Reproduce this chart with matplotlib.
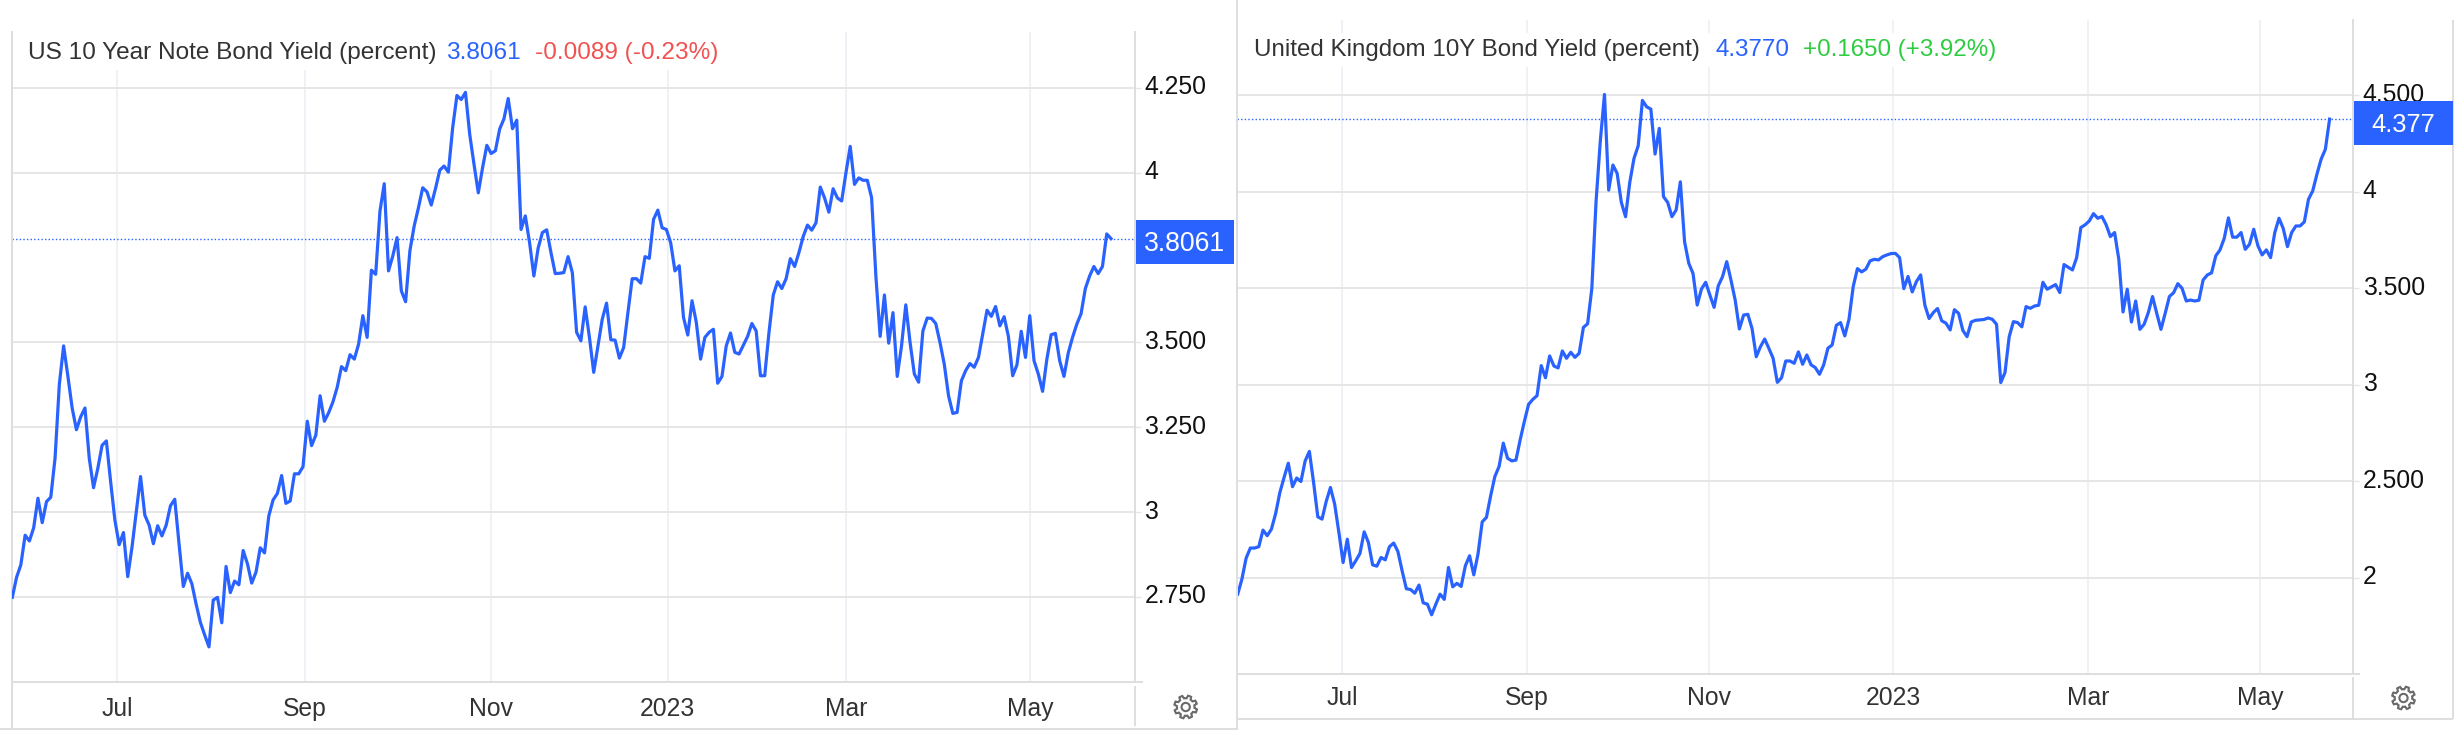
"""US and UK 10 year bond yields, side by side, in the Trading Economics look."""
import numpy as np
import matplotlib
matplotlib.use("Agg")
import matplotlib.pyplot as plt
from matplotlib.patches import Rectangle, Polygon, Circle
from matplotlib.transforms import ScaledTranslation

plt.rcParams["font.family"] = ["Liberation Sans", "DejaVu Sans"]

W, H = 2464, 730
BLUE = "#2962ff"
GRID_H = "#e6e6e6"
GRID_V = "#eef1f5"
BORDER = "#dedede"
TEXT = "#333333"

# daily closes
us_yield = [
    2.749, 2.808, 2.845, 2.932, 2.915, 2.954, 3.041, 2.969, 3.031, 3.044, 3.159, 3.376, 3.490, 3.401, 3.307,
    3.243, 3.281, 3.307, 3.159, 3.072, 3.129, 3.197, 3.210, 3.090, 2.976, 2.904, 2.940, 2.810, 2.897, 3.001,
    3.105, 2.991, 2.962, 2.907, 2.960, 2.930, 2.962, 3.019, 3.038, 2.907, 2.781, 2.820, 2.789, 2.729, 2.675,
    2.638, 2.603, 2.741, 2.749, 2.674, 2.840, 2.763, 2.797, 2.786, 2.887, 2.848, 2.791, 2.823, 2.895, 2.880,
    2.989, 3.036, 3.055, 3.108, 3.026, 3.033, 3.113, 3.113, 3.134, 3.268, 3.196, 3.227, 3.343, 3.268, 3.293,
    3.325, 3.368, 3.429, 3.417, 3.464, 3.451, 3.495, 3.579, 3.515, 3.713, 3.701, 3.887, 3.968, 3.711, 3.755,
    3.809, 3.652, 3.620, 3.770, 3.843, 3.897, 3.956, 3.944, 3.905, 3.954, 4.008, 4.020, 4.002, 4.132, 4.228,
    4.216, 4.237, 4.113, 4.025, 3.941, 4.015, 4.081, 4.057, 4.065, 4.129, 4.159, 4.219, 4.130, 4.155, 3.833,
    3.873, 3.794, 3.696, 3.778, 3.824, 3.832, 3.765, 3.703, 3.704, 3.706, 3.753, 3.706, 3.530, 3.505, 3.605,
    3.515, 3.412, 3.490, 3.569, 3.616, 3.508, 3.507, 3.454, 3.485, 3.588, 3.688, 3.688, 3.675, 3.753, 3.748,
    3.863, 3.890, 3.838, 3.833, 3.794, 3.711, 3.726, 3.574, 3.522, 3.623, 3.559, 3.451, 3.515, 3.530, 3.539,
    3.380, 3.400, 3.490, 3.528, 3.471, 3.466, 3.492, 3.518, 3.556, 3.534, 3.402, 3.402, 3.530, 3.640, 3.679,
    3.659, 3.688, 3.747, 3.724, 3.765, 3.812, 3.846, 3.831, 3.853, 3.958, 3.926, 3.884, 3.953, 3.926, 3.917,
    4.000, 4.078, 3.966, 3.985, 3.978, 3.978, 3.927, 3.696, 3.518, 3.640, 3.498, 3.588, 3.400, 3.490, 3.611,
    3.500, 3.407, 3.383, 3.534, 3.572, 3.571, 3.556, 3.500, 3.436, 3.343, 3.291, 3.294, 3.387, 3.417, 3.438,
    3.427, 3.456, 3.525, 3.595, 3.577, 3.606, 3.549, 3.576, 3.518, 3.402, 3.434, 3.533, 3.456, 3.579, 3.446,
    3.407, 3.356, 3.451, 3.523, 3.527, 3.446, 3.400, 3.469, 3.515, 3.554, 3.585, 3.659, 3.696, 3.724, 3.703,
    3.724, 3.820, 3.8061,
]
uk_yield = [
    1.914, 1.992, 2.101, 2.153, 2.153, 2.160, 2.246, 2.217, 2.251, 2.332, 2.441, 2.519, 2.593, 2.471, 2.516,
    2.498, 2.605, 2.654, 2.493, 2.315, 2.303, 2.395, 2.467, 2.381, 2.234, 2.078, 2.199, 2.052, 2.087, 2.125,
    2.237, 2.182, 2.066, 2.059, 2.104, 2.092, 2.160, 2.179, 2.135, 2.035, 1.942, 1.938, 1.919, 1.961, 1.869,
    1.862, 1.807, 1.862, 1.914, 1.887, 2.052, 1.952, 1.970, 1.954, 2.061, 2.113, 2.014, 2.122, 2.289, 2.312,
    2.424, 2.524, 2.576, 2.697, 2.619, 2.605, 2.609, 2.714, 2.810, 2.898, 2.924, 2.943, 3.099, 3.036, 3.149,
    3.097, 3.087, 3.175, 3.137, 3.168, 3.142, 3.163, 3.297, 3.316, 3.499, 3.949, 4.260, 4.505, 4.009, 4.139,
    4.096, 3.945, 3.871, 4.049, 4.173, 4.239, 4.474, 4.441, 4.429, 4.196, 4.329, 3.975, 3.945, 3.871, 3.906,
    4.052, 3.741, 3.629, 3.577, 3.413, 3.496, 3.531, 3.465, 3.401, 3.513, 3.560, 3.638, 3.543, 3.439, 3.289,
    3.361, 3.365, 3.292, 3.145, 3.197, 3.237, 3.188, 3.137, 3.012, 3.036, 3.123, 3.123, 3.111, 3.170, 3.106,
    3.154, 3.103, 3.089, 3.054, 3.103, 3.189, 3.206, 3.308, 3.322, 3.253, 3.339, 3.509, 3.602, 3.585, 3.599,
    3.642, 3.650, 3.647, 3.664, 3.673, 3.680, 3.681, 3.659, 3.498, 3.561, 3.481, 3.535, 3.569, 3.412, 3.343,
    3.374, 3.395, 3.331, 3.319, 3.284, 3.389, 3.370, 3.282, 3.249, 3.325, 3.334, 3.336, 3.338, 3.346, 3.339,
    3.313, 3.011, 3.063, 3.249, 3.327, 3.322, 3.300, 3.405, 3.396, 3.408, 3.412, 3.531, 3.495, 3.507, 3.519,
    3.478, 3.623, 3.609, 3.595, 3.659, 3.815, 3.829, 3.849, 3.887, 3.863, 3.872, 3.829, 3.768, 3.789, 3.650,
    3.377, 3.495, 3.325, 3.434, 3.287, 3.313, 3.374, 3.457, 3.370, 3.287, 3.370, 3.457, 3.477, 3.524, 3.500,
    3.434, 3.439, 3.434, 3.438, 3.543, 3.569, 3.580, 3.668, 3.699, 3.758, 3.865, 3.765, 3.765, 3.789, 3.702,
    3.728, 3.806, 3.720, 3.673, 3.699, 3.659, 3.789, 3.863, 3.810, 3.716, 3.789, 3.823, 3.823, 3.844, 3.962,
    4.005, 4.092, 4.170, 4.221, 4.377,
]

month_labels = ["Jul", "Sep", "Nov", "2023", "Mar", "May"]
us_month_pos = [24.5, 68.5, 111.9, 153.3, 195.0, 238.1]
uk_month_pos = [24.8, 68.7, 111.8, 155.5, 201.8, 242.5]

us_ticks = [2.75, 3.0, 3.25, 3.5, 4.0, 4.25]
us_tick_labels = ["2.750", "3", "3.250", "3.500", "4", "4.250"]
uk_ticks = [2.0, 2.5, 3.0, 3.5, 4.0, 4.5]
uk_tick_labels = ["2", "2.500", "3", "3.500", "4", "4.500"]


def make_axes(fig, x0, x1, y0, y1):
    return fig.add_axes([x0 / W, 1 - y1 / H, (x1 - x0) / W, (y1 - y0) / H])


def draw_panel(ax, values, month_pos, ticks, tick_labels, ylim, x_scale, last, xpad):
    x = np.arange(len(values))
    ax.plot(x, values, color=BLUE, lw=2.3, solid_joinstyle="round", zorder=3)
    ax.axhline(last, color=BLUE, lw=1.0, ls=(0, (1, 1.6)), zorder=2)
    ax.set_xlim(x_scale[0], x_scale[1])
    ax.set_ylim(*ylim)

    ax.set_xticks(month_pos, month_labels)
    ax.set_yticks(ticks, tick_labels)
    ax.yaxis.tick_right()
    ax.grid(axis="y", color=GRID_H, lw=1.4)
    ax.grid(axis="x", color=GRID_V, lw=1.4)
    ax.set_axisbelow(True)
    ax.tick_params(axis="x", length=0, labelsize=17.8, labelcolor=TEXT, pad=xpad)
    ax.tick_params(axis="y", length=4, width=1, color=GRID_H, labelsize=17.8, labelcolor="#111111", pad=3)

    # tick labels sit a little above their gridline
    shift = ScaledTranslation(0, 3 / 100, ax.figure.dpi_scale_trans)
    for lab in ax.get_yticklabels():
        lab.set_transform(lab.get_transform() + shift)

    for side in ["top"]:
        ax.spines[side].set_visible(False)
    for side in ["left", "right", "bottom"]:
        ax.spines[side].set_color(BORDER)
        ax.spines[side].set_linewidth(1.4)


def draw_gear(ov, cx, cy, r=11.5):
    # outline gear with eight teeth
    ang = np.linspace(0, 2 * np.pi, 65)[:-1]
    rad = np.where((np.arange(64) % 8) < 4, r, r * 0.76)
    pts = np.column_stack([cx + rad * np.cos(ang + 0.2), cy + rad * np.sin(ang + 0.2)])
    ov.add_patch(Polygon(pts, closed=True, fill=False, ec="#6b6b6b", lw=1.5, zorder=5))
    ov.add_patch(Circle((cx, cy), r * 0.36, fill=False, ec="#6b6b6b", lw=1.5, zorder=5))


def draw_header(ov, rect, parts, y, size):
    ov.add_patch(Rectangle((rect[0], rect[1]), rect[2] - rect[0], rect[3] - rect[1], fc="white", ec="none"))
    for x, txt, col in parts:
        ov.text(x, y, txt, color=col, fontsize=size, va="center", ha="left")


def draw_badge(ov, x0, x1, y0, y1, txt, size, cy):
    ov.add_patch(Rectangle((x0, y0), x1 - x0, y1 - y0, fc=BLUE, ec="none", zorder=6))
    ov.text((x0 + x1) / 2, cy, txt, color="white", fontsize=size, ha="center", va="center", zorder=7)


fig = plt.figure(figsize=(W / 100, H / 100), dpi=100, facecolor="white")

ax_us = make_axes(fig, 12, 1134.7, 32, 682)
n_us = len(us_yield)
step_us = (1111 - 12.3) / (n_us - 1)
draw_panel(ax_us, us_yield, us_month_pos, us_ticks, us_tick_labels, (2.4995, 4.415),
           (-0.3 / step_us, (1134.7 - 12.3) / step_us), 3.8061, 10.5)

ax_uk = make_axes(fig, 1237, 2353, 20, 673.6)
n_uk = len(uk_yield)
step_uk = (2329.6 - 1237.7) / (n_uk - 1)
draw_panel(ax_uk, uk_yield, uk_month_pos, uk_ticks, uk_tick_labels, (1.502, 4.891),
           (-0.7 / step_uk, (2353 - 1237.7) / step_uk), 4.377, 9)

ov = fig.add_axes([0, 0, 1, 1], facecolor="none")
ov.set_xlim(0, W)
ov.set_ylim(H, 0)
ov.axis("off")

draw_header(ov, (14, 32, 725, 70), [
    (28, "US 10 Year Note Bond Yield (percent)", TEXT),
    (446, "3.8061", BLUE),
    (535, "-0.0089 (-0.23%)", "#f05252"),
], 53, 17.6)
draw_header(ov, (1239, 33, 2000, 67), [
    (1254, "United Kingdom 10Y Bond Yield (percent)", TEXT),
    (1715, "4.3770", BLUE),
    (1803, "+0.1650 (+3.92%)", "#2ecc40"),
], 50, 17.4)

draw_badge(ov, 1136, 1234, 220, 264, "3.8061", 19.2, 244)
draw_badge(ov, 2354, 2453, 101, 145, "4.377", 18.4, 125)
draw_gear(ov, 1185.7, 707)
draw_gear(ov, 2403.5, 698)

# frame pieces below and between the plot areas
frame = [
    ((12, 12), (682, 730)), ((1134.7, 1134.7), (686, 726)), ((0, 1236), (728.5, 728.5)), ((1134.7, 1143), (682, 682)),
    ((1236.7, 1236.7), (0, 730)), ((2353, 2353), (677, 719)), ((1237, 2453), (719, 719)), ((2453, 2453), (20, 719)),
    ((2353, 2360), (673.6, 673.6)),
]
for xs, ys in frame:
    ov.plot(xs, ys, color=BORDER, lw=1.4, solid_capstyle="butt")

fig.savefig("out.png", dpi=100)
plt.close(fig)
